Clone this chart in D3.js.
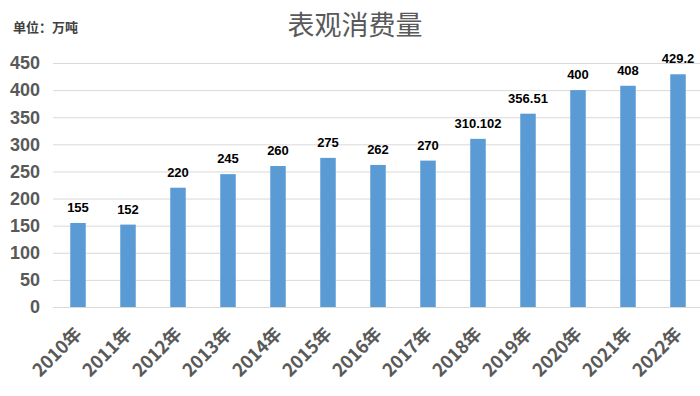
<!DOCTYPE html>
<html>
<head>
<meta charset="utf-8">
<script src="https://cdn.jsdelivr.net/npm/d3@7"></script>
<style>
  body { margin: 0; background: #fff; }
  svg { display: block; font-family: "Noto Sans CJK SC", "Noto Sans", sans-serif; }
</style>
</head>
<body>
<svg width="700" height="396"></svg>
<script>
const years = ["2010年", "2011年", "2012年", "2013年", "2014年", "2015年", "2016年",
  "2017年", "2018年", "2019年", "2020年", "2021年", "2022年"];
const values = [155, 152, 220, 245, 260, 275, 262, 270, 310.102, 356.51, 400, 408, 429.2];
const yTicks = [0, 50, 100, 150, 200, 250, 300, 350, 400, 450];

const svg = d3.select("svg");

const x = d3.scaleBand()
    .domain(years)
    .range([53, 703])
    .paddingInner(0.69)
    .paddingOuter(0.345);

const y = d3.scaleLinear()
    .domain([0, 450])
    .range([307, 63]);

// gridlines
svg.append("g")
    .selectAll("line")
    .data(yTicks)
    .enter().append("line")
    .attr("x1", 53)
    .attr("x2", 700)
    .attr("y1", d => y(d) + 0.5)
    .attr("y2", d => y(d) + 0.5)
    .attr("stroke", "#d9d9d9")
    .attr("stroke-width", 1);

// y tick labels
svg.append("g")
    .selectAll("text")
    .data(yTicks)
    .enter().append("text")
    .attr("x", 40)
    .attr("y", d => y(d))
    .attr("dy", "0.35em")
    .attr("text-anchor", "end")
    .attr("font-size", 18)
    .attr("font-weight", "bold")
    .attr("font-family", "Liberation Sans, Arial, sans-serif")
    .attr("fill", "#595959")
    .text(d => d);

// bars
svg.append("g")
    .selectAll("rect")
    .data(values)
    .enter().append("rect")
    .attr("x", (d, i) => x(years[i]))
    .attr("width", x.bandwidth())
    .attr("y", d => y(d))
    .attr("height", d => y(0) - y(d))
    .attr("fill", "#5b9bd5");

// value labels
svg.append("g")
    .selectAll("text")
    .data(values)
    .enter().append("text")
    .attr("x", (d, i) => x(years[i]) + x.bandwidth() / 2)
    .attr("y", d => y(d) - 11)
    .attr("text-anchor", "middle")
    .attr("font-size", 13)
    .attr("font-weight", "bold")
    .attr("font-family", "Liberation Sans, Arial, sans-serif")
    .attr("fill", "#000")
    .text(d => d);

// x labels
svg.append("g")
    .selectAll("text")
    .data(years)
    .enter().append("text")
    .attr("transform", d => `translate(${x(d) + x.bandwidth() / 2 + 5},${335}) rotate(-45)`)
    .attr("text-anchor", "end")
    .attr("font-size", 18)
    .attr("font-weight", "bold")
    .attr("fill", "#595959")
    .text(d => d);

// title
svg.append("text")
    .attr("x", 355)
    .attr("y", 35)
    .attr("text-anchor", "middle")
    .attr("font-size", 27)
    .attr("fill", "#595959")
    .text("表观消费量");

svg.append("text")
    .attr("x", 13)
    .attr("y", 32)
    .attr("font-size", 13)
    .attr("font-weight", "bold")
    .attr("fill", "#404040")
    .text("单位：万吨");
</script>
</body>
</html>
